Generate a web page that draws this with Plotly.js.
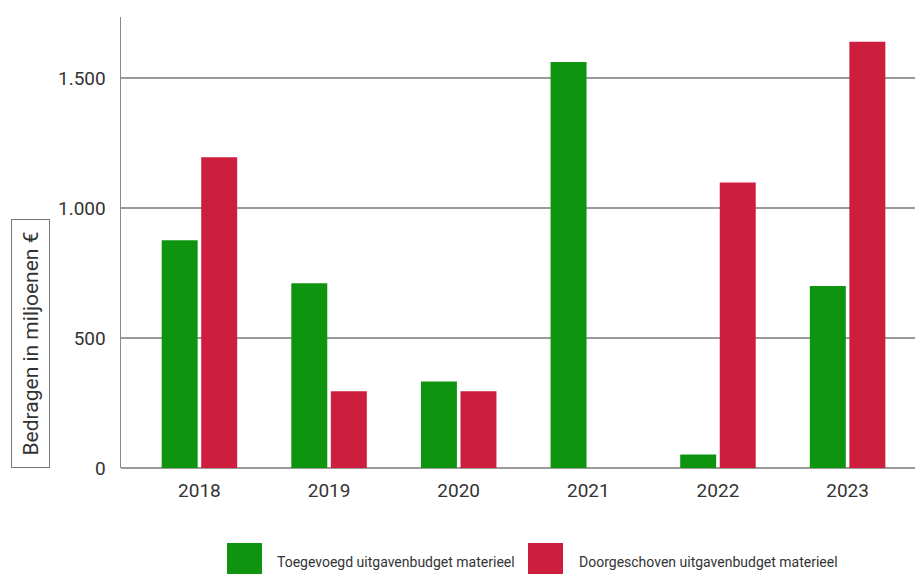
<!DOCTYPE html>
<html>
<head>
<meta charset="utf-8">
<script src="https://cdn.plot.ly/plotly-3.0.1.min.js"></script>
<style>html,body{margin:0;padding:0;background:#fff;}#chart{width:915px;height:574px;}</style>
</head>
<body>
<div id="chart"></div>
<script>
const years = ['2018', '2019', '2020', '2021', '2022', '2023'];
const toegevoegd = [876, 711, 333, 1562, 52, 700];
const doorgeschoven = [1195, 295, 295, 0, 1098, 1640];
const seriesNames = ['Toegevoegd uitgavenbudget materieel', 'Doorgeschoven uitgavenbudget materieel'];
const seriesColors = ['#0f9410', '#cd1f3d'];
const yTickVals = [0, 500, 1000, 1500];
const yTitle = 'Bedragen in miljoenen €';

const traces = [
  {type: 'bar', x: years, y: toegevoegd, name: seriesNames[0], marker: {color: seriesColors[0]}, hoverinfo: 'x+y+name'},
  {type: 'bar', x: years, y: doorgeschoven, name: seriesNames[1], marker: {color: seriesColors[1]}, hoverinfo: 'x+y+name'}
];

const L = 121, W = 915, H = 574, T = 17, B = 106;
const pw = W - L, ph = H - T - B;
const px = v => (v - L) / pw;
const py = v => (H - B - v) / ph;

const layout = {
  width: W, height: H,
  margin: {l: L, r: 0, t: T, b: B, pad: 0},
  paper_bgcolor: '#fff', plot_bgcolor: '#fff',
  separators: ',.',
  showlegend: false,
  barmode: 'group', bargap: 0.39, bargroupgap: 0.09,
  font: {family: 'Roboto, sans-serif', color: '#333'},
  xaxis: {
    type: 'category', range: [-0.605, 5.52],
    showgrid: false, showline: false, zeroline: false, ticks: '',
    tickfont: {size: 19, color: '#333'}, ticklabelstandoff: 9
  },
  yaxis: {
    range: [0, 1735], tickvals: yTickVals, tickformat: ',',
    showgrid: true, gridcolor: '#9a9a9a', gridwidth: 1.5,
    zeroline: true, zerolinecolor: '#9a9a9a', zerolinewidth: 1.5,
    showline: true, linecolor: '#8a8a8a', linewidth: 1.5, ticks: '',
    tickfont: {size: 19, color: '#333'}, ticklabelstandoff: 10
  },
  shapes: [
    {type: 'rect', xref: 'paper', yref: 'paper', x0: px(227), x1: px(262), y0: py(590), y1: py(543), fillcolor: seriesColors[0], line: {width: 0}},
    {type: 'rect', xref: 'paper', yref: 'paper', x0: px(528), x1: px(563), y0: py(590), y1: py(543), fillcolor: seriesColors[1], line: {width: 0}}
  ],
  annotations: [
    {xref: 'paper', yref: 'paper', x: px(30.5), y: py(343.5), xanchor: 'center', yanchor: 'middle',
     text: yTitle, textangle: -90, showarrow: false, font: {size: 21, color: '#333'},
     bordercolor: '#777', borderwidth: 1, borderpad: 0, width: 247, height: 37},
    {xref: 'paper', yref: 'paper', x: px(275), y: py(562), xanchor: 'left', yanchor: 'middle',
     text: seriesNames[0], showarrow: false, font: {size: 14, color: '#333'}},
    {xref: 'paper', yref: 'paper', x: px(577), y: py(562), xanchor: 'left', yanchor: 'middle',
     text: seriesNames[1], showarrow: false, font: {size: 14, color: '#333'}}
  ]
};

Plotly.newPlot('chart', traces, layout, {displayModeBar: false, staticPlot: true});
</script>
</body>
</html>
